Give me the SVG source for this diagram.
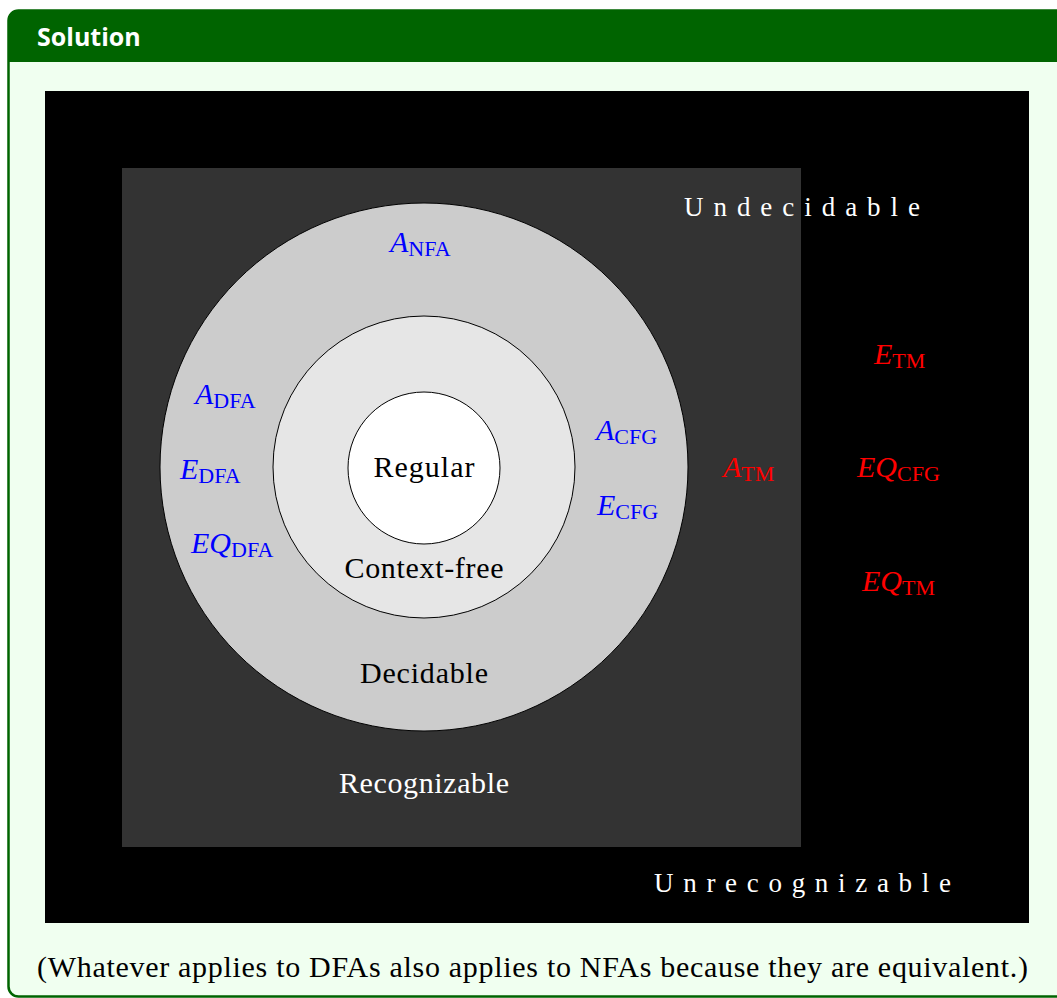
<svg xmlns="http://www.w3.org/2000/svg" width="1057" height="998" viewBox="0 0 1057 998">
<style>
.t{font-family:"Liberation Serif","DejaVu Serif",serif;font-size:30px}
.m{font-family:"Liberation Serif","DejaVu Serif",serif;font-size:30px;font-style:italic}
.s{font-style:normal;font-size:22px}
.b{fill:#0000ff}
.r{fill:#ff0000}
.sp{font-family:"Liberation Serif","DejaVu Serif",serif;font-size:27px;fill:#ffffff}
</style>
<rect x="0" y="0" width="1057" height="998" fill="#ffffff"/>
<g id="frame">
<rect x="8.5" y="10.5" width="1070" height="986" rx="10" fill="#f0fff0" stroke="#006400" stroke-width="2.5"/>
<path d="M8.5,62 V20.5 A10,10 0 0 1 18.5,10.5 H1057 V62 Z" fill="#006400"/>
<text x="37" y="46" font-family="'Open Sans','DejaVu Sans',sans-serif" font-weight="bold" font-size="25" fill="#ffffff">Solution</text>
</g>
<g id="unrecognizable">
<rect x="45" y="91" width="984" height="832" fill="#000000"/>
<text class="sp" x="654" y="892" textLength="297">Unrecognizable</text>
</g>
<g id="recognizable">
<rect x="122" y="168" width="679" height="679" fill="#333333"/>
<text class="t" x="424" y="793" text-anchor="middle" fill="#ffffff" textLength="170">Recognizable</text>
</g>
<g id="undecidable">
<text class="sp" x="684" y="216" textLength="236">Undecidable</text>
</g>
<g id="decidable">
<circle cx="424" cy="467" r="264" fill="#cccccc" stroke="#000000" stroke-width="1"/>
<text class="t" x="424" y="683" text-anchor="middle" fill="#000000" textLength="128">Decidable</text>
</g>
<g id="contextfree">
<circle cx="424" cy="467" r="151" fill="#e6e6e6" stroke="#000000" stroke-width="1"/>
<text class="t" x="424" y="578" text-anchor="middle" fill="#000000" textLength="159">Context-free</text>
</g>
<g id="regular">
<circle cx="424" cy="468" r="76" fill="#ffffff" stroke="#000000" stroke-width="1"/>
<text class="t" x="424" y="477" text-anchor="middle" fill="#000000" textLength="101">Regular</text>
</g>
<g id="labels">
<text class="m b" x="390" y="252">A<tspan class="s" dy="4">NFA</tspan></text>
<text class="m b" x="195" y="404">A<tspan class="s" dy="4">DFA</tspan></text>
<text class="m b" x="180" y="479">E<tspan class="s" dy="4">DFA</tspan></text>
<text class="m b" x="191" y="553">EQ<tspan class="s" dy="4">DFA</tspan></text>
<text class="m b" x="596" y="440">A<tspan class="s" dy="4">CFG</tspan></text>
<text class="m b" x="597" y="515">E<tspan class="s" dy="4">CFG</tspan></text>
<text class="m r" x="723" y="477">A<tspan class="s" dy="4">TM</tspan></text>
<text class="m r" x="874" y="364">E<tspan class="s" dy="4">TM</tspan></text>
<text class="m r" x="857" y="477">EQ<tspan class="s" dy="4">CFG</tspan></text>
<text class="m r" x="862" y="591">EQ<tspan class="s" dy="4">TM</tspan></text>
</g>
<text class="t" x="37" y="977" fill="#000000" textLength="991">(Whatever applies to DFAs also applies to NFAs because they are equivalent.)</text>
</svg>
